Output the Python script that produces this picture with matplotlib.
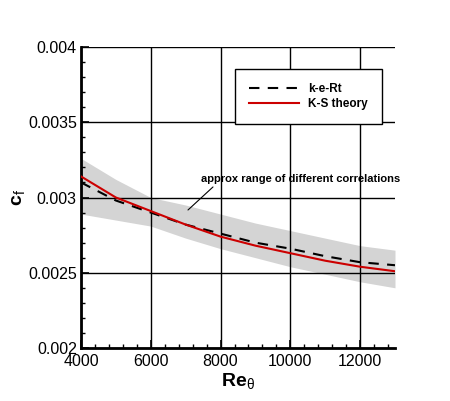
import numpy as np
import matplotlib
matplotlib.use("Agg")
import matplotlib.pyplot as plt
from matplotlib.ticker import MultipleLocator

plt.rcParams['font.family'] = ['Liberation Sans', 'DejaVu Sans']
plt.rcParams['mathtext.fontset'] = 'custom'
plt.rcParams['mathtext.rm'] = 'Liberation Sans'
plt.rcParams['mathtext.bf'] = 'Liberation Sans:bold'

# data
re_theta = [4000, 5000, 6000, 7000, 8000, 9000, 10000, 11000, 12000, 13000]
cf_model = [0.00310, 0.00298, 0.00290, 0.00282, 0.00276, 0.00270, 0.00266, 0.00261, 0.00257, 0.00255]
cf_ks = [0.00314, 0.00300, 0.00291, 0.00282, 0.00274, 0.00268, 0.00263, 0.00258, 0.00254, 0.00251]
band_hi = [0.00326, 0.00312, 0.00300, 0.00295, 0.00289, 0.00283, 0.00278, 0.00273, 0.00268, 0.00265]
band_lo = [0.00289, 0.00285, 0.00281, 0.00273, 0.00266, 0.00260, 0.00254, 0.00249, 0.00244, 0.00240]
yticks = [0.002, 0.0025, 0.003, 0.0035, 0.004]
ytick_labels = ['0.002', '0.0025', '0.003', '0.0035', '0.004']

fig = plt.figure(figsize=[4.5, 4.01], dpi=100)
ax = fig.add_axes([81/450, 1-348/401, 314/450, 301/401])

ax.fill_between(re_theta, band_lo, band_hi, color='#d4d4d4', lw=0, zorder=1)
ax.plot(re_theta, cf_model, 'k--', lw=1.5, dashes=(5, 4), label='k-e-Rt', zorder=3)
ax.plot(re_theta, cf_ks, color='#cc0000', lw=1.5, label='K-S theory', zorder=4)

ax.set_xlim(4000, 13000)
ax.set_ylim(0.002, 0.004)
ax.xaxis.set_major_locator(MultipleLocator(2000))
ax.xaxis.set_minor_locator(MultipleLocator(400))
ax.set_yticks(yticks)
ax.set_yticklabels(ytick_labels)
ax.yaxis.set_minor_locator(MultipleLocator(0.0001))
ax.grid(True, which='major', color='k', lw=1, zorder=2)
ax.tick_params(which='both', direction='in', labelsize=11.5)
ax.tick_params(which='major', length=6, width=1.2)
ax.tick_params(which='minor', length=3, width=1)
ax.tick_params(axis='x', pad=4)
ax.tick_params(axis='y', pad=3)
ax.spines['top'].set_visible(False)
ax.spines['right'].set_visible(False)
ax.spines['left'].set_linewidth(2)
ax.spines['bottom'].set_linewidth(2)

ax.set_xlabel(r'Re$_{\mathrm{\theta}}$', fontsize=14, fontweight='bold')
ax.xaxis.set_label_coords(0.5, -24/301)
ax.set_ylabel(r'c$_{\mathrm{f}}$', fontsize=14, fontweight='bold')
ax.yaxis.set_label_coords(-53/314, 0.5)

# pointer line and note for the grey band
ax.annotate('', xy=(7067, 0.002917), xytext=(7783, 0.00307),
            arrowprops=dict(arrowstyle='-', color='k', lw=0.8, shrinkA=0, shrinkB=0), zorder=5)
ax.text(7440, 0.003125, 'approx range of different correlations', fontsize=8,
        fontweight='bold', va='center', ha='left', zorder=5)

leg = ax.legend(loc='upper left', bbox_to_anchor=(154/314, 279/301), borderaxespad=0,
                fontsize=8.5, frameon=True, fancybox=False, edgecolor='k', framealpha=1,
                handlelength=4.2, handletextpad=0.8, borderpad=1.2, labelspacing=0.25)
leg.get_frame().set_linewidth(1)
for t in leg.get_texts():
    t.set_fontweight('bold')

fig.savefig('out.png', dpi=100)
